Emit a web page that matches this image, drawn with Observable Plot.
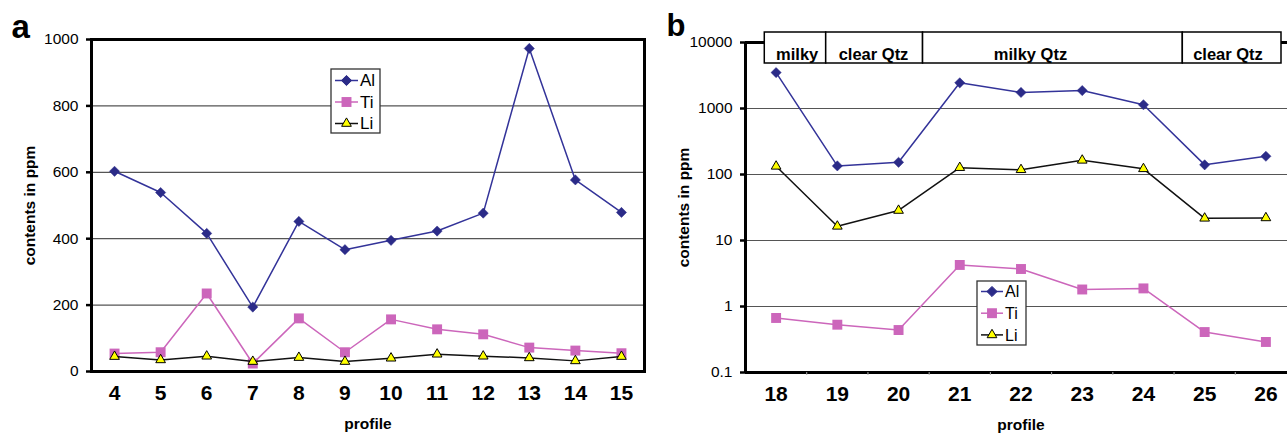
<!DOCTYPE html>
<html>
<head>
<meta charset="utf-8">
<script src="https://cdn.jsdelivr.net/npm/d3@7"></script>
<script src="https://cdn.jsdelivr.net/npm/@observablehq/plot@0.6"></script>
<style>
  html, body { margin: 0; padding: 0; background: white; overflow: hidden; }
  #wrap { position: relative; width: 1287px; height: 435px; overflow: hidden; font-family: "Liberation Sans", Arial, sans-serif; }
  .panel { position: absolute; top: 0; height: 435px; overflow: hidden; }
  .panel svg { max-width: none !important; }
  .legend { position: absolute; }
</style>
</head>
<body>
<div id="wrap">
  <div id="pa" class="panel" style="left:0;width:660px"></div>
  <div id="pb" class="panel" style="left:660px;width:627px"></div>
</div>
<script>
// ---------- data: panel a ----------
const profilesA = [4, 5, 6, 7, 8, 9, 10, 11, 12, 13, 14, 15];
const alA = [603, 539, 416, 194, 452, 367, 395, 423, 477, 973, 577, 479];
const tiA = [54, 58, 235, 24, 160, 58, 157, 127, 112, 72, 63, 55];
const liA = [45, 35, 46, 30, 42, 30, 40, 52, 46, 41, 32, 45];
const yTicksA = [0, 200, 400, 600, 800, 1000];
const yTickLabelsA = ["0", "200", "400", "600", "800", "1000"];

// ---------- data: panel b ----------
const profilesB = [18, 19, 20, 21, 22, 23, 24, 25, 26];
const alB = [3500, 135, 153, 2450, 1750, 1870, 1140, 140, 189];
const tiB = [0.67, 0.53, 0.44, 4.26, 3.7, 1.81, 1.88, 0.41, 0.29];
const liB = [133, 16.4, 28.5, 127, 118, 164, 122, 21.7, 22];
const yTicksB = [0.1, 1, 10, 100, 1000, 10000];
const yTickLabelsB = ["0.1", "1", "10", "100", "1000", "10000"];

// quartz-type header boxes (profile units)
const qtzLabels = ["milky", "clear Qtz", "milky Qtz", "clear Qtz"];
const qtzStart = [17.815, 18.818, 20.40, 24.643];
const qtzEnd = [18.818, 20.40, 24.643, 26.255];
const qtzLabelAt = [18.344, 19.591, 22.155, 25.381];

const seriesNames = ["Al", "Ti", "Li"];

// ---------- styles ----------
const FONT = "'Liberation Sans', Arial, sans-serif";
const colAl = "#333399", colAlDot = "#2b2b88";
const colTi = "#cc66bb";
const colLi = "#111111", colLiFill = "#ffff00";

function tidy(profiles, al, ti, li) {
  return profiles.map((p, i) => ({profile: p, Al: al[i], Ti: ti[i], Li: li[i]}));
}
const dataA = tidy(profilesA, alA, tiA, liA);
const dataB = tidy(profilesB, alB, tiB, liB);

function seriesMarks(data) {
  return [
    Plot.line(data, {x: "profile", y: "Al", stroke: colAl, strokeWidth: 1.5}),
    Plot.dot(data, {x: "profile", y: "Al", symbol: "diamond2", r: 4.6, fill: colAlDot, stroke: colAlDot, strokeWidth: 0.5}),
    Plot.line(data, {x: "profile", y: "Ti", stroke: colTi, strokeWidth: 1.5}),
    Plot.dot(data, {x: "profile", y: "Ti", symbol: "square", r: 5.6, fill: colTi, stroke: "none"}),
    Plot.line(data, {x: "profile", y: "Li", stroke: colLi, strokeWidth: 1.5}),
    Plot.dot(data, {x: "profile", y: "Li", symbol: "triangle", r: 3.6, fill: colLiFill, stroke: "black", strokeWidth: 1})
  ];
}

// ---------- panel a ----------
const chartA = Plot.plot({
  width: 660, height: 435,
  marginLeft: 91, marginRight: 16, marginTop: 39, marginBottom: 64,
  x: {type: "linear", domain: [3.5, 15.5]},
  y: {type: "linear", domain: [0, 1000]},
  style: {fontFamily: FONT, background: "white", overflow: "visible", color: "black", maxWidth: "none"},
  marks: [
    Plot.ruleY(yTicksA.filter(t => t > 0 && t < 1000), {stroke: "#555", strokeWidth: 1.2}),
    ...seriesMarks(dataA),
    Plot.frame({stroke: "black", strokeWidth: 3}),
    Plot.axisY({ticks: yTicksA, tickFormat: d => yTickLabelsA[yTicksA.indexOf(d)], tickSize: 5, tickPadding: 8, fontSize: 15.5, strokeWidth: 2.5, label: null}),
    Plot.axisX({ticks: profilesA, tickSize: 0, tickPadding: 14, fontSize: 21, fontWeight: "bold", label: null}),
    Plot.text(["contents in ppm"], {text: d => d, frameAnchor: "left", dx: -61, rotate: -90, textAnchor: "middle", fontWeight: "bold", fontSize: 15.5}),
    Plot.text(["profile"], {text: d => d, frameAnchor: "bottom", dy: 57, textAnchor: "middle", fontWeight: "bold", fontSize: 15.5}),
    Plot.text(["a"], {text: d => d, frameAnchor: "top-left", dx: -80, dy: -12, textAnchor: "start", lineAnchor: "middle", fontWeight: "bold", fontSize: 33})
  ]
});
document.getElementById("pa").appendChild(chartA);

// ---------- panel b ----------
const qtz = qtzLabels.map((l, i) => ({label: l, x1: qtzStart[i], x2: qtzEnd[i], xt: qtzLabelAt[i]}));
const chartB = Plot.plot({
  width: 650, height: 435,
  marginLeft: 85, marginRight: 14, marginTop: 42, marginBottom: 63,
  x: {type: "linear", domain: [17.5, 26.5]},
  y: {type: "log", domain: [0.1, 10000]},
  style: {fontFamily: FONT, background: "white", overflow: "visible", color: "black", maxWidth: "none"},
  marks: [
    Plot.ruleY(yTicksB.slice(1, -1), {stroke: "#555", strokeWidth: 1.2}),
    ...seriesMarks(dataB),
    Plot.ruleX([17.5], {stroke: "black", strokeWidth: 3}),
    Plot.ruleY([0.1, 10000], {stroke: "black", strokeWidth: 3}),
    Plot.axisX({ticks: profilesB.slice(1).map(p => p - 0.5), tickSize: 3, tickFormat: () => "", stroke: "#aaa", strokeWidth: 1, label: null}),
    Plot.axisY({ticks: yTicksB, tickFormat: d => yTickLabelsB[yTicksB.indexOf(d)], tickSize: 5, tickPadding: 8, fontSize: 15.5, strokeWidth: 2.5, label: null}),
    Plot.axisX({ticks: profilesB, tickSize: 0, tickPadding: 14, fontSize: 21, fontWeight: "bold", label: null}),
    Plot.rect(qtz, {x1: "x1", x2: "x2", insetTop: -10, insetBottom: 309, fill: "white", stroke: "black", strokeWidth: 1.5}),
    Plot.text(qtz, {x: "xt", text: "label", frameAnchor: "top", dy: 5.5, fontWeight: "bold", fontSize: 16.5}),
    Plot.text(["contents in ppm"], {text: d => d, frameAnchor: "left", dx: -61, rotate: -90, textAnchor: "middle", fontWeight: "bold", fontSize: 15.5}),
    Plot.text(["profile"], {text: d => d, frameAnchor: "bottom", dy: 57, textAnchor: "middle", fontWeight: "bold", fontSize: 15.5}),
    Plot.text(["b"], {text: d => d, frameAnchor: "top-left", dx: -79, dy: -16, textAnchor: "start", lineAnchor: "middle", fontWeight: "bold", fontSize: 31})
  ]
});
chartB.style.maxWidth = "none";
chartA.style.maxWidth = "none";
document.getElementById("pb").appendChild(chartB);

// ---------- legends ----------
function legend(left, top, w, h, rowGap, firstRow, lineX1, lineX2, textX, fontSize) {
  const svg = d3.select("#wrap").append("svg")
    .attr("class", "legend")
    .style("left", left + "px").style("top", top + "px")
    .attr("width", w + 2).attr("height", h + 2);
  svg.append("rect").attr("x", 1).attr("y", 1).attr("width", w).attr("height", h)
    .attr("fill", "white").attr("stroke", "#333").attr("stroke-width", 1.3);
  const specs = {
    Al: {stroke: colAl, sym: d3.symbolDiamond2, size: Math.PI * 4.6 * 4.6, fill: colAlDot, ms: colAlDot},
    Ti: {stroke: colTi, sym: d3.symbolSquare, size: Math.PI * 5.6 * 5.6, fill: colTi, ms: "none"},
    Li: {stroke: colLi, sym: d3.symbolTriangle, size: Math.PI * 3.6 * 3.6, fill: colLiFill, ms: "black"}
  };
  seriesNames.forEach((name, i) => {
    const s = specs[name];
    const y = firstRow + i * rowGap;
    svg.append("line").attr("x1", lineX1).attr("x2", lineX2).attr("y1", y).attr("y2", y)
      .attr("stroke", s.stroke).attr("stroke-width", 1.5);
    svg.append("path").attr("d", d3.symbol(s.sym, s.size)())
      .attr("transform", `translate(${(lineX1 + lineX2) / 2},${y})`)
      .attr("fill", s.fill).attr("stroke", s.ms).attr("stroke-width", 1);
    svg.append("text").attr("x", textX).attr("y", y).attr("dy", "0.35em")
      .attr("font-family", FONT).attr("font-size", fontSize).attr("fill", "black").text(name);
  });
}
legend(330, 68, 49, 64, 21.5, 12.5, 5, 28, 30, 17);
legend(976, 280, 49, 64, 21.7, 11.5, 5, 27, 29, 16);
</script>
</body>
</html>
